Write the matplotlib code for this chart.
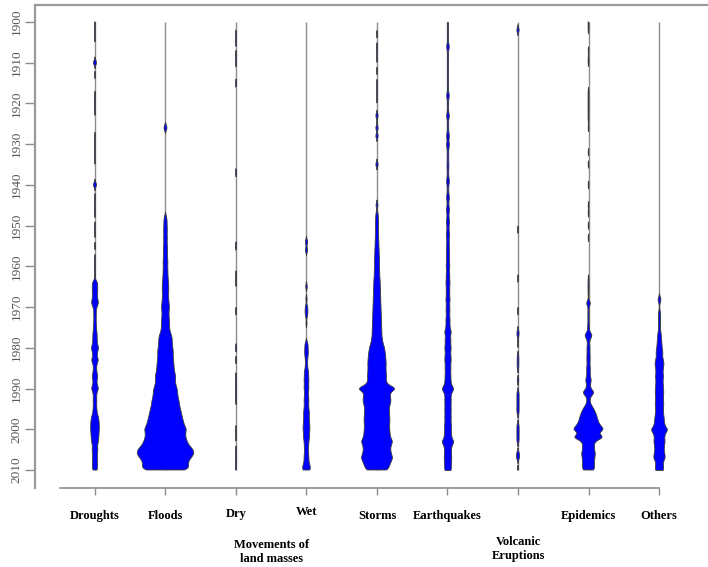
import numpy as np
import matplotlib
matplotlib.use("Agg")
from matplotlib import pyplot as plt

# число событий по годам для каждого типа бедствий (оценка по рисунку)
categories = ["Droughts", "Floods", "Dry", "Wet", "Storms", "Earthquakes",
              "Volcanic\nEruptions", "Epidemics", "Others"]

droughts_years = [1900, 1902, 1904, 1910, 1913, 1918, 1920, 1922, 1928, 1930, 1932, 1934,
                  1940, 1943, 1945, 1947, 1950, 1952, 1955, 1958, 1960, 1962,
                  1964, 1965, 1966, 1967, 1968, 1969, 1970, 1971, 1972, 1973, 1974, 1975,
                  1976, 1977, 1978, 1979, 1980, 1981, 1982, 1983, 1984, 1985, 1986, 1987,
                  1988, 1989, 1990, 1991, 1992, 1993, 1994, 1995, 1996, 1997, 1998, 1999,
                  2000, 2001, 2002, 2003, 2004, 2005, 2006, 2007, 2008, 2009, 2010]
droughts_counts = [3, 3, 3, 16, 3, 4, 4, 3, 3, 3, 3, 3,
                   16, 3, 3, 4, 3, 3, 3, 3, 4, 4,
                   20, 20, 20, 18, 20, 28, 14, 8, 10, 8, 10, 10,
                   14, 16, 16, 18, 28, 20, 14, 28, 14, 12, 14, 22,
                   14, 16, 28, 14, 12, 14, 12, 14, 16, 26, 30, 32,
                   32, 30, 28, 26, 18, 22, 18, 18, 18, 18, 18]

floods_years = [1926] + list(range(1948, 2011))
floods_counts = [16,
                 10, 12, 12, 14, 12, 14, 12, 14, 16, 14, 16, 18, 16, 18, 18, 20,
                 22, 24, 24, 22, 24, 26, 30, 26, 26, 28, 30, 30, 34, 46, 50, 50,
                 54, 58, 56, 60, 62, 64, 68, 76, 72, 76, 86, 90, 92, 100, 104, 110,
                 118, 124, 132, 140, 156, 148, 150, 160, 176, 205, 212, 190, 168, 172, 166]

dry_years = [1903, 1905, 1908, 1910, 1915, 1937, 1955, 1962, 1964, 1971, 1980, 1983,
             1987, 1988, 1989, 1990, 1991, 1992, 1993, 2000, 2002, 2005, 2006, 2007,
             2008, 2009, 2010]
dry_counts = [4, 4, 4, 4, 4, 4, 4, 3, 3, 3, 4, 3,
              3, 3, 3, 3, 3, 3, 3, 3, 3, 3, 3, 3,
              3, 3, 3]

wet_years = [1954, 1956, 1965, 1968, 1970, 1971, 1972, 1974, 1979, 1980, 1981, 1982,
             1983, 1984, 1985, 1986, 1987, 1988, 1989, 1990, 1991, 1992, 1993, 1994,
             1995, 1996, 1997, 1998, 1999, 2000, 2001, 2002, 2003, 2004, 2005, 2006,
             2007, 2008, 2009, 2010]
wet_counts = [12, 12, 8, 6, 10, 10, 10, 5, 12, 12, 14, 12,
              8, 8, 10, 16, 16, 18, 16, 18, 14, 16, 18, 16,
              18, 22, 20, 22, 24, 26, 22, 22, 18, 16, 14, 16,
              18, 18, 28, 30]

storms_years = [1903, 1906, 1907, 1909, 1912, 1915, 1917, 1919, 1923, 1926, 1928, 1935,
                1945] + list(range(1947, 2011))
storms_counts = [3, 3, 3, 3, 3, 3, 3, 3, 12, 12, 12, 12,
                 10,
                 8, 10, 10, 12, 10, 12, 12, 14, 14, 16, 16, 18, 18, 18, 20, 20,
                 22, 24, 24, 26, 26, 28, 28, 30, 30, 32, 32, 34, 34, 36, 36, 40,
                 46, 56, 60, 64, 66, 68, 66, 68, 70, 68, 76, 150, 96, 100, 104, 96,
                 90, 92, 94, 96, 92, 94, 96, 100, 118, 104, 100, 106, 118, 104, 92, 82]

quakes_years = list(range(1900, 2011))
quakes_counts = [3, 2, 4, 3, 3, 4, 12, 4, 3, 4, 3, 4, 3, 3, 4, 3, 4, 4, 12, 4,
                 5, 4, 5, 12, 4, 5, 5, 6, 12, 5, 12, 6, 5, 6, 5, 7, 6, 5, 6, 12,
                 6, 5, 6, 12, 6, 7, 12, 7, 8, 12, 8, 8, 12, 9, 9, 10,
                 10, 12, 10, 12, 14, 10, 14, 12, 16, 12, 14, 12, 16, 12, 14, 14, 12, 16,
                 14, 16, 26, 18, 22, 20, 24, 20, 22, 24, 20, 22, 20, 22, 22, 26, 48, 26,
                 22, 24, 22, 24, 22, 24, 22, 26, 24, 26, 28, 48, 28, 26, 26, 28, 26, 24, 26]

volcanic_years = [1902, 1951, 1963, 1971, 1976, 1977, 1979, 1982, 1983, 1984, 1985, 1988,
                  1991, 1992, 1993, 1994, 1995, 1996, 1999, 2000, 2001, 2002, 2003, 2006,
                  2007, 2010]
volcanic_counts = [12, 3, 3, 3, 8, 8, 3, 6, 6, 6, 6, 8,
                   8, 8, 8, 8, 8, 8, 8, 8, 8, 8, 8, 12,
                   12, 6]

epidemics_years = [1900, 1901, 1902, 1907, 1909, 1910, 1917, 1918, 1919, 1920, 1921, 1922,
                   1923, 1924, 1926, 1932, 1935, 1940, 1945, 1947, 1950, 1953,
                   1963, 1964, 1965, 1966, 1967] + list(range(1969, 2011))
epidemics_counts = [3, 3, 3, 3, 3, 3, 3, 3, 3, 3, 3, 3,
                    3, 3, 3, 3, 3, 3, 3, 3, 3, 3,
                    3, 3, 4, 3, 3,
                    18, 4, 4, 5, 4, 5, 6, 8, 32, 10, 8, 12, 10, 12, 12, 10, 14, 12,
                    14, 22, 14, 16, 48, 16, 10, 20, 40, 54, 64, 72, 86, 120, 70, 120,
                    46, 44, 44, 52, 46, 44, 44, 44]

others_years = [1968, 1969] + list(range(1971, 2011))
others_counts = [14, 3,
                 6, 8, 8, 8, 6, 10, 14, 16, 18, 20, 26, 22, 30, 34, 28, 26, 30, 26,
                 28, 30, 32, 28, 30, 32, 28, 30, 34, 36, 40, 66, 42, 38, 42, 36, 34,
                 40, 44, 26, 30, 32]

beans = [(droughts_years, droughts_counts), (floods_years, floods_counts),
         (dry_years, dry_counts), (wet_years, wet_counts),
         (storms_years, storms_counts), (quakes_years, quakes_counts),
         (volcanic_years, volcanic_counts), (epidemics_years, epidemics_counts),
         (others_years, others_counts)]

year_min, year_max = 1900, 2010
bw = 0.6          # ширина ядра, годы
maxwidth = 0.4    # полуширина самого широкого "боба"

grid = np.linspace(year_min, year_max, 2201)


def density(years, counts):
    y = np.asarray(years, dtype=float)
    c = np.asarray(counts, dtype=float)
    k = np.exp(-0.5 * ((grid[:, None] - y[None, :]) / bw) ** 2)
    return (k / (bw * np.sqrt(2 * np.pi))) @ c


dens = [density(y, c) for y, c in beans]
scale = maxwidth / max(d.max() for d in dens)

fig = plt.figure(figsize=(7.08, 5.67), dpi=100)
ax = fig.add_axes([35 / 708, 1 - 488 / 567, 673 / 708, 483 / 567])

positions = np.arange(1, len(categories) + 1)
ax.vlines(positions, year_min, year_max, color="#8c8c8c", linewidth=1.0, zorder=1)

for pos, d in zip(positions, dens):
    half = d * scale
    ax.fill_betweenx(grid, pos - half, pos + half, where=d > 0.7, interpolate=True,
                     facecolor="#0000ff", edgecolor="#3c3c3c", linewidth=0.6, zorder=2)

ax.set_xlim(0.149, 9.695)
ax.set_ylim(2014.42, 1895.83)

ax.set_yticks(range(1900, 2011, 10))
ax.set_yticklabels([str(v) for v in range(1900, 2011, 10)], rotation=90, va="center",
                   fontfamily="Liberation Serif", fontsize=9.5, color="#555555")
ax.tick_params(axis="y", direction="out", length=7, width=1, color="#8c8c8c", pad=2)

ax.set_xticks(positions)
ax.set_xticklabels([])
ax.tick_params(axis="x", direction="out", length=5, width=1, color="#8c8c8c")

for side in ["left", "top", "bottom"]:
    ax.spines[side].set_color("#9a9a9a")
    ax.spines[side].set_linewidth(1.6)
ax.spines["right"].set_visible(False)
ax.spines["bottom"].set_bounds(0.5, 9)
ax.spines["bottom"].set_color("#8c8c8c")
ax.spines["bottom"].set_linewidth(1.2)

# подписи категорий под осью
label_offsets = [-28, -28, -26, -24, -28, -28, -61, -28, -28]
for x, name, off in zip(positions, categories, label_offsets):
    ax.annotate(name, xy=(x, 0), xycoords=("data", "axes fraction"),
                xytext=(0, off), textcoords="offset pixels", ha="center", va="center",
                fontfamily="Liberation Serif", fontweight="bold", fontsize=9,
                linespacing=1.25)
ax.annotate("Movements of\nland masses", xy=(3.5, 0), xycoords=("data", "axes fraction"),
            xytext=(0, -64), textcoords="offset pixels", ha="center", va="center",
            fontfamily="Liberation Serif", fontweight="bold", fontsize=9,
            linespacing=1.25)

fig.savefig("out.png", dpi=100)
